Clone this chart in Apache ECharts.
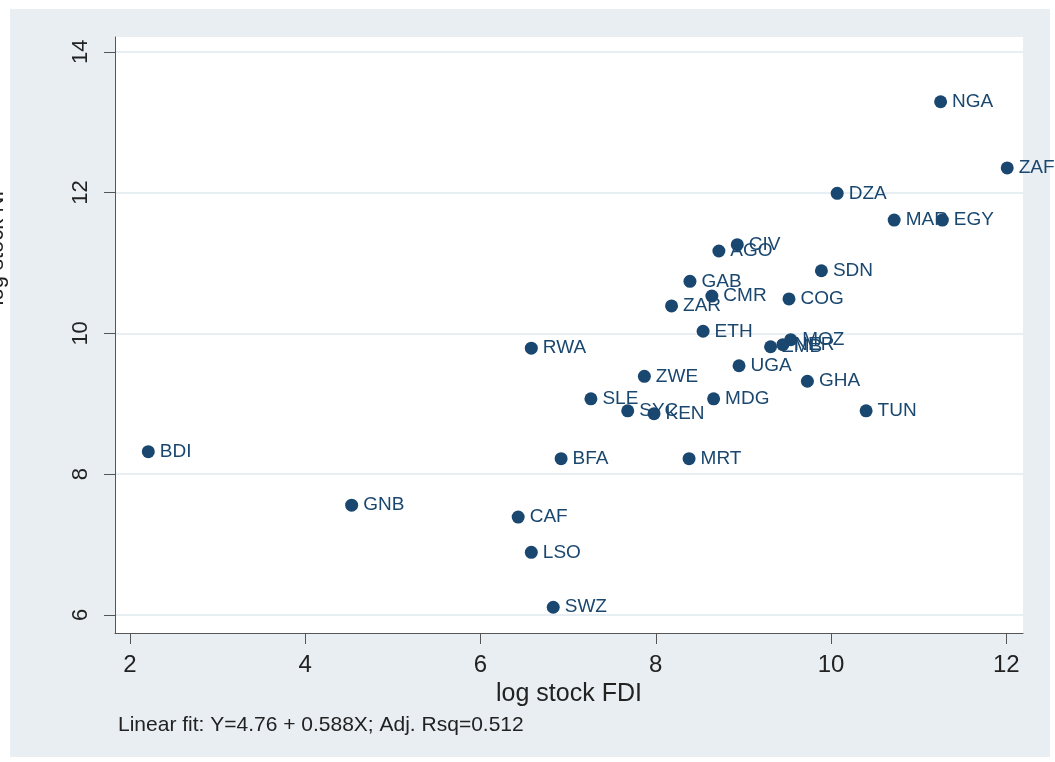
<!DOCTYPE html>
<html>
<head>
<meta charset="utf-8">
<script src="https://cdn.jsdelivr.net/npm/echarts@6/dist/echarts.min.js"></script>
<style>
html,body{margin:0;padding:0;background:#fff;}
#chart{width:1055px;height:762px;}
</style>
</head>
<body>
<div id="chart"></div>
<script>
const codes = ["NGA","ZAF","DZA","MAR","EGY","CIV","AGO","SDN","GAB","CMR","COG","ZAR","ETH","ZMB","NER","MOZ","UGA","GHA","ZWE","SLE","SYC","KEN","MDG","TUN","RWA","BDI","BFA","MRT","GNB","CAF","LSO","SWZ"];
const logFDI = [11.25,12.01,10.07,10.72,11.27,8.93,8.72,9.89,8.39,8.64,9.52,8.18,8.54,9.31,9.45,9.54,8.95,9.73,7.87,7.26,7.68,7.98,8.66,10.40,6.58,2.21,6.92,8.38,4.53,6.43,6.58,6.83];
const logNI = [13.29,12.35,11.99,11.61,11.61,11.26,11.17,10.89,10.74,10.53,10.49,10.39,10.03,9.81,9.84,9.91,9.54,9.32,9.39,9.07,8.90,8.86,9.07,8.90,9.79,8.32,8.22,8.22,7.56,7.39,6.89,6.11];
const xTicks = [2,4,6,8,10,12];
const yTicks = [6,8,10,12,14];
const xTitle = "log stock FDI";
const yTitle = "log stock NI";
const footnote = "Linear fit: Y=4.76 + 0.588X; Adj. Rsq=0.512";

const navy = "#1a476f";
const font = 'Arial, "Liberation Sans", Helvetica, sans-serif';
const chart = echarts.init(document.getElementById('chart'), null, {renderer:'canvas'});
const pts = codes.map((c,i)=>({name:c, value:[logFDI[i], logNI[i]]}));
chart.setOption({
  backgroundColor:'#ffffff',
  animation:false,
  graphic:[
    {type:'rect', z:-10, silent:true, shape:{x:10,y:9,width:1040,height:748}, style:{fill:'#e8eef2'}},
    {type:'text', left:118, top:715, style:{text:footnote, font:'21px ' + font, fill:'#222'}},
    {type:'text', x:8, y:248, rotation:Math.PI/2, style:{text:yTitle, font:'22px ' + font, fill:'#222', align:'center', verticalAlign:'bottom'}}
  ],
  grid:{left:115, top:37, width:908, height:596, show:true, backgroundColor:'#ffffff', borderWidth:0, outerBoundsMode:'none', containLabel:false},
  xAxis:{
    type:'value', min:1.83, max:12.19,
    name:xTitle, nameLocation:'middle', nameGap:45,
    nameTextStyle:{fontSize:25, color:'#222', fontFamily:font},
    axisLine:{show:true, onZero:false, lineStyle:{color:'#555', width:1}},
    axisTick:{show:true, length:11, lineStyle:{color:'#555'}, customValues:xTicks},
    axisLabel:{fontSize:24, color:'#222', margin:20, fontFamily:font, customValues:xTicks},
    splitLine:{show:false}
  },
  yAxis:{
    type:'value', min:5.744, max:14.21,
    axisLine:{show:true, onZero:false, lineStyle:{color:'#555', width:1}},
    axisTick:{show:true, length:11, lineStyle:{color:'#555'}, customValues:yTicks},
    axisLabel:{fontSize:22, color:'#222', margin:23, rotate:90, fontFamily:font, customValues:yTicks},
    splitLine:{show:true, lineStyle:{color:'#e1eaee', width:1.5}, customValues:yTicks}
  },
  series:[{
    type:'scatter',
    data:pts,
    symbol:'circle',
    symbolSize:13,
    itemStyle:{color:navy, opacity:1},
    label:{show:true, position:'right', distance:5, formatter:'{b}', fontSize:19, color:navy, fontFamily:font},
    labelLayout:{hideOverlap:false}
  }]
});
</script>
</body>
</html>
